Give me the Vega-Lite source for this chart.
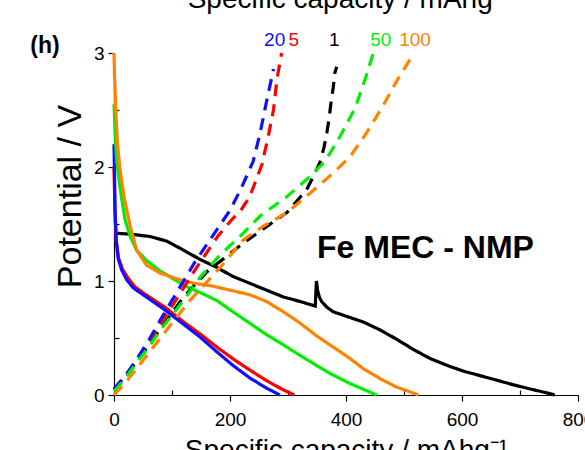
{
"$schema": "https://vega.github.io/schema/vega-lite/v6.json",
"width": 464, "height": 342,
"autosize": "none",
"padding": {"left": 114, "top": 53, "right": 7, "bottom": 55},
"config": {
  "font": "Liberation Sans",
  "view": {"stroke": null},
  "axis": {"grid": false, "domainColor": "#000", "tickColor": "#000", "labelColor": "#000", "titleColor": "#000",
           "labelFont": "Liberation Sans", "titleFont": "Liberation Sans", "labelFontSize": 19, "titleFontSize": 28,
           "titleFontWeight": "normal", "domainWidth": 1.2, "tickWidth": 1.2}
},
"datasets": {
  "curves": [
    {"s":"1","t":"d","x":0,"v":1.42},{"s":"1","t":"d","x":30,"v":1.41},{"s":"1","t":"d","x":62,"v":1.39},{"s":"1","t":"d","x":91,"v":1.35},{"s":"1","t":"d","x":120,"v":1.27},{"s":"1","t":"d","x":148,"v":1.19},{"s":"1","t":"d","x":177,"v":1.12},{"s":"1","t":"d","x":205,"v":1.04},{"s":"1","t":"d","x":234,"v":0.98},{"s":"1","t":"d","x":263,"v":0.92},{"s":"1","t":"d","x":292,"v":0.86},{"s":"1","t":"d","x":321,"v":0.82},{"s":"1","t":"d","x":347,"v":0.78},{"s":"1","t":"d","x":349,"v":1.0},{"s":"1","t":"d","x":351,"v":0.92},{"s":"1","t":"d","x":354,"v":0.86},{"s":"1","t":"d","x":358,"v":0.82},{"s":"1","t":"d","x":367,"v":0.77},{"s":"1","t":"d","x":378,"v":0.73},{"s":"1","t":"d","x":401,"v":0.69},{"s":"1","t":"d","x":430,"v":0.64},{"s":"1","t":"d","x":459,"v":0.57},{"s":"1","t":"d","x":487,"v":0.49},{"s":"1","t":"d","x":516,"v":0.40},{"s":"1","t":"d","x":545,"v":0.32},{"s":"1","t":"d","x":574,"v":0.26},{"s":"1","t":"d","x":602,"v":0.21},{"s":"1","t":"d","x":631,"v":0.17},{"s":"1","t":"d","x":660,"v":0.13},{"s":"1","t":"d","x":688,"v":0.09},{"s":"1","t":"d","x":720,"v":0.05},{"s":"1","t":"d","x":745,"v":0.02},{"s":"1","t":"d","x":760,"v":0.0},
    {"s":"5","t":"d","x":0,"v":2.0},{"s":"5","t":"d","x":1,"v":1.75},{"s":"5","t":"d","x":2,"v":1.55},{"s":"5","t":"d","x":4,"v":1.35},{"s":"5","t":"d","x":8,"v":1.2},{"s":"5","t":"d","x":15,"v":1.1},{"s":"5","t":"d","x":25,"v":1.02},{"s":"5","t":"d","x":36,"v":0.95},{"s":"5","t":"d","x":52,"v":0.89},{"s":"5","t":"d","x":70,"v":0.83},{"s":"5","t":"d","x":88,"v":0.77},{"s":"5","t":"d","x":105,"v":0.70},{"s":"5","t":"d","x":123,"v":0.63},{"s":"5","t":"d","x":150,"v":0.53},{"s":"5","t":"d","x":180,"v":0.41},{"s":"5","t":"d","x":210,"v":0.30},{"s":"5","t":"d","x":240,"v":0.20},{"s":"5","t":"d","x":265,"v":0.12},{"s":"5","t":"d","x":290,"v":0.05},{"s":"5","t":"d","x":311,"v":0.0},
    {"s":"20","t":"d","x":0,"v":2.2},{"s":"20","t":"d","x":1,"v":1.9},{"s":"20","t":"d","x":2,"v":1.6},{"s":"20","t":"d","x":4,"v":1.35},{"s":"20","t":"d","x":7,"v":1.2},{"s":"20","t":"d","x":13,"v":1.1},{"s":"20","t":"d","x":22,"v":1.01},{"s":"20","t":"d","x":33,"v":0.94},{"s":"20","t":"d","x":50,"v":0.88},{"s":"20","t":"d","x":67,"v":0.82},{"s":"20","t":"d","x":84,"v":0.76},{"s":"20","t":"d","x":102,"v":0.69},{"s":"20","t":"d","x":120,"v":0.62},{"s":"20","t":"d","x":148,"v":0.51},{"s":"20","t":"d","x":177,"v":0.38},{"s":"20","t":"d","x":205,"v":0.26},{"s":"20","t":"d","x":234,"v":0.15},{"s":"20","t":"d","x":263,"v":0.06},{"s":"20","t":"d","x":286,"v":0.0},
    {"s":"50","t":"d","x":0,"v":2.55},{"s":"50","t":"d","x":2,"v":2.3},{"s":"50","t":"d","x":4,"v":2.1},{"s":"50","t":"d","x":7,"v":1.95},{"s":"50","t":"d","x":11,"v":1.8},{"s":"50","t":"d","x":14,"v":1.7},{"s":"50","t":"d","x":19,"v":1.54},{"s":"50","t":"d","x":28,"v":1.39},{"s":"50","t":"d","x":39,"v":1.27},{"s":"50","t":"d","x":56,"v":1.18},{"s":"50","t":"d","x":79,"v":1.09},{"s":"50","t":"d","x":102,"v":1.02},{"s":"50","t":"d","x":125,"v":0.95},{"s":"50","t":"d","x":148,"v":0.90},{"s":"50","t":"d","x":177,"v":0.83},{"s":"50","t":"d","x":205,"v":0.73},{"s":"50","t":"d","x":234,"v":0.63},{"s":"50","t":"d","x":263,"v":0.53},{"s":"50","t":"d","x":292,"v":0.44},{"s":"50","t":"d","x":320,"v":0.35},{"s":"50","t":"d","x":349,"v":0.26},{"s":"50","t":"d","x":372,"v":0.19},{"s":"50","t":"d","x":407,"v":0.10},{"s":"50","t":"d","x":430,"v":0.05},{"s":"50","t":"d","x":453,"v":0.0},
    {"s":"100","t":"d","x":0,"v":3.0},{"s":"100","t":"d","x":1,"v":2.8},{"s":"100","t":"d","x":3,"v":2.5},{"s":"100","t":"d","x":6,"v":2.2},{"s":"100","t":"d","x":10,"v":2.0},{"s":"100","t":"d","x":13,"v":1.88},{"s":"100","t":"d","x":18,"v":1.72},{"s":"100","t":"d","x":28,"v":1.48},{"s":"100","t":"d","x":39,"v":1.27},{"s":"100","t":"d","x":56,"v":1.14},{"s":"100","t":"d","x":79,"v":1.07},{"s":"100","t":"d","x":108,"v":1.02},{"s":"100","t":"d","x":137,"v":0.98},{"s":"100","t":"d","x":166,"v":0.96},{"s":"100","t":"d","x":200,"v":0.92},{"s":"100","t":"d","x":234,"v":0.88},{"s":"100","t":"d","x":263,"v":0.82},{"s":"100","t":"d","x":292,"v":0.73},{"s":"100","t":"d","x":321,"v":0.63},{"s":"100","t":"d","x":349,"v":0.52},{"s":"100","t":"d","x":378,"v":0.42},{"s":"100","t":"d","x":407,"v":0.32},{"s":"100","t":"d","x":430,"v":0.23},{"s":"100","t":"d","x":460,"v":0.14},{"s":"100","t":"d","x":487,"v":0.07},{"s":"100","t":"d","x":525,"v":0.0},
    {"s":"1","t":"c","x":0,"v":0.05},{"s":"1","t":"c","x":20,"v":0.17},{"s":"1","t":"c","x":40,"v":0.30},{"s":"1","t":"c","x":60,"v":0.44},{"s":"1","t":"c","x":80,"v":0.58},{"s":"1","t":"c","x":100,"v":0.72},{"s":"1","t":"c","x":120,"v":0.86},{"s":"1","t":"c","x":140,"v":0.97},{"s":"1","t":"c","x":160,"v":1.08},{"s":"1","t":"c","x":190,"v":1.2},{"s":"1","t":"c","x":220,"v":1.32},{"s":"1","t":"c","x":250,"v":1.43},{"s":"1","t":"c","x":275,"v":1.52},{"s":"1","t":"c","x":298,"v":1.60},{"s":"1","t":"c","x":315,"v":1.70},{"s":"1","t":"c","x":332,"v":1.80},{"s":"1","t":"c","x":345,"v":1.93},{"s":"1","t":"c","x":355,"v":2.04},{"s":"1","t":"c","x":362,"v":2.17},{"s":"1","t":"c","x":367,"v":2.30},{"s":"1","t":"c","x":371,"v":2.43},{"s":"1","t":"c","x":374,"v":2.56},{"s":"1","t":"c","x":378,"v":2.70},{"s":"1","t":"c","x":381,"v":2.83},{"s":"1","t":"c","x":384,"v":2.88},
    {"s":"5","t":"c","x":0,"v":0.05},{"s":"5","t":"c","x":20,"v":0.17},{"s":"5","t":"c","x":40,"v":0.31},{"s":"5","t":"c","x":60,"v":0.46},{"s":"5","t":"c","x":80,"v":0.62},{"s":"5","t":"c","x":100,"v":0.78},{"s":"5","t":"c","x":120,"v":0.94},{"s":"5","t":"c","x":140,"v":1.10},{"s":"5","t":"c","x":160,"v":1.25},{"s":"5","t":"c","x":180,"v":1.40},{"s":"5","t":"c","x":200,"v":1.52},{"s":"5","t":"c","x":220,"v":1.63},{"s":"5","t":"c","x":234,"v":1.74},{"s":"5","t":"c","x":255,"v":2.02},{"s":"5","t":"c","x":266,"v":2.27},{"s":"5","t":"c","x":275,"v":2.5},{"s":"5","t":"c","x":281,"v":2.77},{"s":"5","t":"c","x":289,"v":3.0},
    {"s":"20","t":"c","x":0,"v":0.05},{"s":"20","t":"c","x":20,"v":0.17},{"s":"20","t":"c","x":40,"v":0.32},{"s":"20","t":"c","x":60,"v":0.48},{"s":"20","t":"c","x":80,"v":0.66},{"s":"20","t":"c","x":100,"v":0.83},{"s":"20","t":"c","x":120,"v":1.00},{"s":"20","t":"c","x":140,"v":1.17},{"s":"20","t":"c","x":160,"v":1.32},{"s":"20","t":"c","x":180,"v":1.47},{"s":"20","t":"c","x":200,"v":1.62},{"s":"20","t":"c","x":220,"v":1.82},{"s":"20","t":"c","x":240,"v":2.05},{"s":"20","t":"c","x":252,"v":2.3},{"s":"20","t":"c","x":262,"v":2.55},{"s":"20","t":"c","x":275,"v":2.86},
    {"s":"50","t":"c","x":0,"v":0.03},{"s":"50","t":"c","x":20,"v":0.15},{"s":"50","t":"c","x":40,"v":0.29},{"s":"50","t":"c","x":60,"v":0.42},{"s":"50","t":"c","x":80,"v":0.57},{"s":"50","t":"c","x":100,"v":0.70},{"s":"50","t":"c","x":120,"v":0.83},{"s":"50","t":"c","x":148,"v":1.03},{"s":"50","t":"c","x":183,"v":1.23},{"s":"50","t":"c","x":217,"v":1.39},{"s":"50","t":"c","x":252,"v":1.57},{"s":"50","t":"c","x":298,"v":1.74},{"s":"50","t":"c","x":332,"v":1.89},{"s":"50","t":"c","x":364,"v":2.05},{"s":"50","t":"c","x":390,"v":2.27},{"s":"50","t":"c","x":416,"v":2.52},{"s":"50","t":"c","x":433,"v":2.77},{"s":"50","t":"c","x":447,"v":3.0},
    {"s":"100","t":"c","x":0,"v":0.0},{"s":"100","t":"c","x":20,"v":0.11},{"s":"100","t":"c","x":40,"v":0.24},{"s":"100","t":"c","x":60,"v":0.37},{"s":"100","t":"c","x":80,"v":0.50},{"s":"100","t":"c","x":100,"v":0.63},{"s":"100","t":"c","x":131,"v":0.83},{"s":"100","t":"c","x":160,"v":0.99},{"s":"100","t":"c","x":190,"v":1.16},{"s":"100","t":"c","x":223,"v":1.36},{"s":"100","t":"c","x":257,"v":1.48},{"s":"100","t":"c","x":298,"v":1.60},{"s":"100","t":"c","x":338,"v":1.77},{"s":"100","t":"c","x":372,"v":1.92},{"s":"100","t":"c","x":407,"v":2.09},{"s":"100","t":"c","x":433,"v":2.28},{"s":"100","t":"c","x":462,"v":2.52},{"s":"100","t":"c","x":487,"v":2.75},{"s":"100","t":"c","x":516,"v":2.99}
  ],
  "rates": [
    {"s":"20","label":"20","x":277,"v":3.06},
    {"s":"5","label":"5","x":310,"v":3.06},
    {"s":"1","label":"1","x":380,"v":3.06},
    {"s":"50","label":"50","x":460,"v":3.06},
    {"s":"100","label":"100","x":519,"v":3.06}
  ],
  "sample": [{"label":"Fe MEC - NMP","x":537,"v":1.20}],
  "panel": [{"label":"(h)","x":-119,"v":3.0}],
  "above": [{"label":"Specific capacity / mAhg","x":390,"v":3.395}]
},
"layer": [
  {
    "data": {"name": "curves"},
    "mark": {"type": "line", "strokeWidth": 3.2, "strokeCap": "butt"},
    "encoding": {
      "x": {"field": "x", "type": "quantitative", "scale": {"domain": [0, 800], "nice": false, "zero": false},
            "axis": {"orient": "bottom", "values": [0, 200, 400, 600, 800], "tickSize": 6, "labelPadding": 9, "labelFlush": false,
                     "title": "Specific capacity / mAhg⁻¹", "titleY": 41}},
      "y": {"field": "v", "type": "quantitative", "scale": {"domain": [0, 3], "nice": false},
            "axis": {"orient": "left", "values": [0, 1, 2, 3], "tickSize": 6, "labelPadding": 4,
                     "title": "Potential / V", "titleFontSize": 34, "titleX": -27, "titleY": 143}},
      "color": {"field": "s", "type": "nominal",
                "scale": {"domain": ["1", "5", "20", "50", "100"], "range": ["#000000", "#ff0000", "#1010ff", "#00ee00", "#ff8200"]},
                "legend": null},
      "strokeDash": {"field": "t", "type": "nominal", "scale": {"domain": ["d", "c"], "range": [[1, 0], [12, 8]]}, "legend": null}
    }
  },
  {
    "data": {"name": "rates"},
    "mark": {"type": "text", "fontSize": 19, "baseline": "alphabetic", "align": "center"},
    "encoding": {
      "x": {"field": "x", "type": "quantitative", "scale": {"domain": [0, 800], "nice": false, "zero": false},
            "axis": {"orient": "bottom", "values": [100, 300, 500, 700], "tickSize": -5, "labels": false, "domain": false, "title": null}},
      "y": {"field": "v", "type": "quantitative", "scale": {"domain": [0, 3], "nice": false},
            "axis": {"orient": "left", "values": [0.5, 1.5, 2.5], "tickSize": -5, "labels": false, "domain": false, "title": null}},
      "text": {"field": "label"},
      "color": {"field": "s", "type": "nominal", "legend": null}
    }
  },
  {
    "data": {"name": "sample"},
    "mark": {"type": "text", "fontSize": 32, "fontWeight": "bold", "baseline": "alphabetic", "align": "center", "color": "#000"},
    "encoding": {
      "x": {"field": "x", "type": "quantitative", "scale": {"domain": [0, 800], "nice": false, "zero": false}, "axis": null},
      "y": {"field": "v", "type": "quantitative", "scale": {"domain": [0, 3], "nice": false}, "axis": null},
      "text": {"field": "label"}
    }
  },
  {
    "data": {"name": "panel"},
    "mark": {"type": "text", "fontSize": 23, "fontWeight": "bold", "baseline": "alphabetic", "align": "center", "color": "#000"},
    "encoding": {
      "x": {"field": "x", "type": "quantitative", "scale": {"domain": [0, 800], "nice": false, "zero": false}, "axis": null},
      "y": {"field": "v", "type": "quantitative", "scale": {"domain": [0, 3], "nice": false}, "axis": null},
      "text": {"field": "label"}
    }
  },
  {
    "data": {"name": "above"},
    "mark": {"type": "text", "fontSize": 28, "baseline": "alphabetic", "align": "center", "color": "#000"},
    "encoding": {
      "x": {"field": "x", "type": "quantitative", "scale": {"domain": [0, 800], "nice": false, "zero": false}, "axis": null},
      "y": {"field": "v", "type": "quantitative", "scale": {"domain": [0, 3], "nice": false}, "axis": null},
      "text": {"field": "label"}
    }
  }
],
"resolve": {"axis": {"x": "independent", "y": "independent"}}
}
